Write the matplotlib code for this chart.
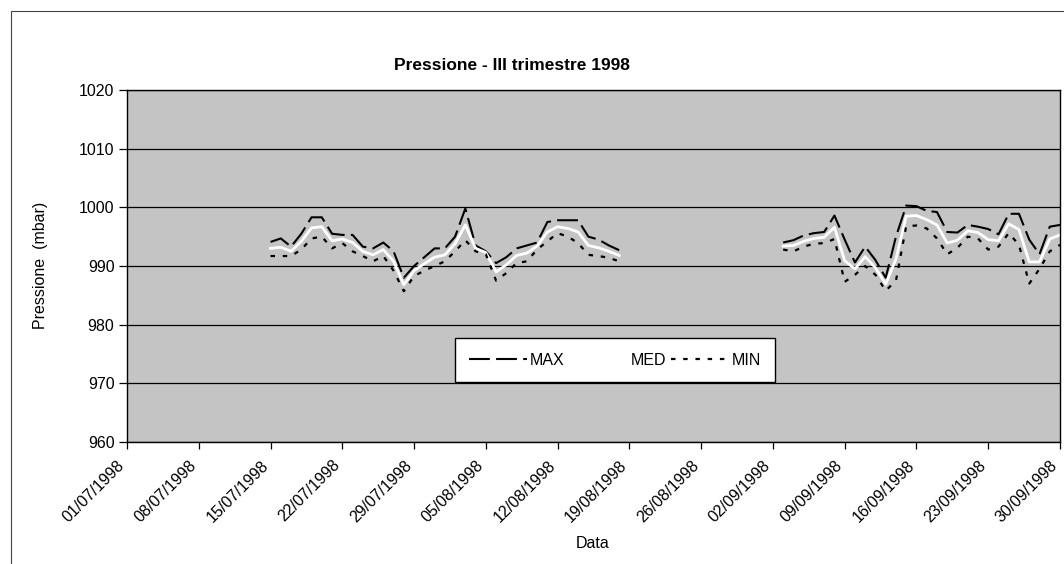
import numpy as np
import pandas as pd
import matplotlib
matplotlib.use("Agg")
import matplotlib.pyplot as plt
import matplotlib.dates as mdates
import matplotlib.transforms as mtransforms
from matplotlib.patches import Rectangle

plt.rcParams['font.family'] = ['Liberation Sans', 'DejaVu Sans']

# first block of daily readings: 15/07 - 18/08
start1 = '1998-07-15'
max1 = [994.1, 994.7, 993.3, 995.5, 998.3, 998.3, 995.5, 995.3, 995.3, 993.3,
        993.0, 994.0, 992.5, 988.0, 990.0, 991.5, 993.0, 993.0, 995.0, 999.8,
        993.5, 992.5, 990.5, 991.5, 993.0, 993.5, 994.0, 997.5, 997.8, 997.8,
        997.8, 995.0, 994.5, 993.5, 992.7]
med1 = [993.0, 993.2, 992.5, 994.2, 996.5, 996.7, 994.3, 994.6, 994.0, 992.5,
        991.9, 992.8, 990.8, 986.8, 989.2, 990.4, 991.5, 991.9, 993.8, 997.0,
        993.0, 992.3, 989.0, 990.2, 991.8, 992.2, 993.4, 995.8, 996.7, 996.4,
        995.8, 993.5, 993.1, 992.5, 991.8]
min1 = [991.7, 991.7, 991.7, 992.8, 994.7, 995.0, 993.0, 993.9, 992.5, 991.7,
        990.8, 991.7, 989.2, 985.7, 988.3, 989.2, 990.0, 990.8, 992.5, 994.4,
        992.5, 992.0, 987.5, 988.8, 990.5, 990.8, 992.8, 994.2, 995.6, 995.0,
        993.9, 991.9, 991.7, 991.4, 990.8]

# second block: 03/09 - 30/09
start2 = '1998-09-03'
max2 = [994.0, 994.4, 995.2, 995.6, 995.8, 998.6, 994.5, 990.6, 993.3, 991.0,
        988.0, 995.0, 1000.3, 1000.2, 999.4, 999.2, 995.8, 995.7, 997.0, 996.7,
        996.3, 995.4, 998.9, 998.9, 994.5, 992.0, 996.7, 997.0]
med2 = [993.4, 993.5, 994.2, 994.7, 994.9, 996.6, 990.9, 989.5, 991.6, 989.7,
        986.9, 991.2, 998.5, 998.6, 997.9, 997.0, 993.9, 994.4, 996.0, 995.7,
        994.5, 994.3, 997.2, 996.2, 990.7, 990.7, 994.6, 995.3]
min2 = [992.8, 992.5, 993.3, 993.8, 993.9, 994.6, 987.3, 988.5, 990.0, 988.5,
        985.8, 987.5, 996.8, 996.9, 996.4, 994.7, 992.0, 993.1, 995.0, 994.7,
        992.8, 993.3, 995.6, 993.6, 987.0, 989.5, 992.5, 993.6]

d1 = pd.date_range(start1, periods=len(max1), freq='D')
d2 = pd.date_range(start2, periods=len(max2), freq='D')

fig = plt.figure(figsize=(10.64, 5.64), dpi=100)
ax = fig.add_axes([127/1064, 1 - 442/564, 933/1064, 352/564])
ax.set_facecolor('#c4c4c4')

# chart area border (only top and left fall inside the picture)
fig.patches.append(Rectangle((11/1064, -0.1), 1.2, 1.1 - 11/564,
                             transform=fig.transFigure, fill=False,
                             edgecolor='#444444', lw=0.8))

max_style = dict(color='black', lw=1.5, linestyle=(0, (10, 3)))
med_style = dict(color='white', lw=2.0, linestyle='-')
min_style = dict(color='black', lw=1.6, linestyle=(0, (2, 3.5)))

for d, mx, md, mn in [(d1, max1, med1, min1), (d2, max2, med2, min2)]:
    l_max, = ax.plot(d, mx, label='MAX', **max_style)
    l_med, = ax.plot(d, md, label='MED', **med_style)
    l_min, = ax.plot(d, mn, label='MIN', **min_style)

ax.set_ylim(960, 1020)
ax.set_yticks(np.arange(960, 1021, 10))
ax.set_xlim(pd.Timestamp('1998-07-01'), pd.Timestamp('1998-09-30'))
ax.set_xticks(pd.date_range('1998-07-01', '1998-09-30', freq='7D'))
ax.xaxis.set_major_formatter(mdates.DateFormatter('%d/%m/%Y'))
ax.grid(axis='y', color='black', lw=0.9)
ax.set_axisbelow(True)
for s in ax.spines.values():
    s.set_linewidth(1.0)
    s.set_color('black')

ax.tick_params(axis='y', length=6, width=0.9, labelsize=11.5, pad=3)
ax.tick_params(axis='x', length=5, width=0.9, labelsize=11.5, pad=4)
shift = mtransforms.ScaledTranslation(-10/100, -3/100, fig.dpi_scale_trans)
for lab in ax.get_xticklabels():
    lab.set_rotation(45)
    lab.set_ha('right')
    lab.set_va('top')
    lab.set_rotation_mode('anchor')
    lab.set_transform(lab.get_transform() + shift)

leg = ax.legend(handles=[l_max, l_med, l_min], ncol=3, loc='lower left',
                bbox_to_anchor=(0.3516, 0.1705, 0.343, 0.148), mode='expand',
                fontsize=11.5, frameon=True, fancybox=False, handlelength=3.6,
                handletextpad=0.2, borderaxespad=0, borderpad=0.9)
leg.get_frame().set_edgecolor('black')
leg.get_frame().set_linewidth(1.0)
leg.get_frame().set_facecolor('white')
leg.get_frame().set_alpha(1)

fig.text(512/1064, 1 - 65/564, 'Pressione - III trimestre 1998',
         ha='center', va='center', fontsize=12.5, fontweight='bold')
fig.text(40/1064, 1 - 265/564, 'Pressione  (mbar)', rotation=90,
         ha='center', va='center', fontsize=11.5)
fig.text(593/1064, 1 - 543/564, 'Data', ha='center', va='center', fontsize=11.5)

fig.savefig('out.png', dpi=100, facecolor='white')
